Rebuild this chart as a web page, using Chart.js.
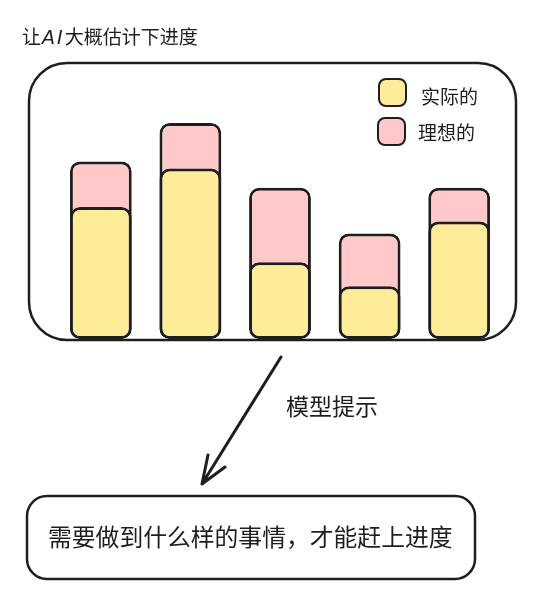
<!DOCTYPE html>
<html><head><meta charset="utf-8">
<script src="https://cdn.jsdelivr.net/npm/chart.js@4/dist/chart.umd.min.js"></script>
<style>
html,body{margin:0;padding:0;background:#fff;}
#wrap{position:relative;width:533px;height:612px;overflow:hidden;font-family:"Noto Sans CJK SC","Noto Sans",sans-serif;color:#1e1e1e;}
#wrap canvas,#wrap svg{position:absolute;left:0;top:0;}
.t{position:absolute;white-space:nowrap;line-height:1;}
.sw{position:absolute;width:25px;height:25px;border:2.5px solid #1e1e1e;border-radius:8px;}
</style></head><body>
<div id="wrap">
<svg width="533" height="612">
  <rect x="29" y="63" width="487" height="277" rx="38" fill="none" stroke="#1e1e1e" stroke-width="2.5"/>
  <path d="M281 357 L202 484 M208 455 L202 484 L225 467" fill="none" stroke="#1e1e1e" stroke-width="3" stroke-linecap="round" stroke-linejoin="round"/>
  <rect x="27" y="496" width="448" height="83" rx="20" fill="none" stroke="#1e1e1e" stroke-width="2.5"/>
</svg>
<canvas id="c" width="533" height="612"></canvas>
<div class="t" style="left:22px;top:26px;font-size:19px;">让<span style="font-family:'DejaVu Sans';font-style:italic;font-size:19px;letter-spacing:2px;padding-left:1px;">AI</span>大概估计下进度</div>
<div id="legend"></div>
<div class="t" style="left:286px;top:394px;font-size:23px;">模型提示</div>
<div class="t" style="left:48px;top:524px;font-size:23.8px;">需要做到什么样的事情，才能赶上进度</div>
</div>
<script>
const categories = ['1', '2', '3', '4', '5'];
const actualValues = [55, 71, 32, 22, 49];
const idealValues = [74, 90, 63, 44, 63];
const seriesNames = ['实际的', '理想的'];
const seriesColors = ['#ffec99', '#ffc9c9'];

const chart = new Chart(document.getElementById('c'), {
  type: 'bar',
  data: {
    labels: categories,
    datasets: [
      { label: seriesNames[0], data: actualValues, backgroundColor: seriesColors[0] },
      { label: seriesNames[1], data: idealValues, backgroundColor: seriesColors[1] }
    ]
  },
  options: {
    responsive: false,
    animation: false,
    layout: { padding: { left: 56, right: 29, top: 99, bottom: 273 } },
    datasets: {
      bar: {
        grouped: false,
        barPercentage: 0.69,
        categoryPercentage: 1,
        borderColor: '#1e1e1e',
        borderWidth: 3,
        borderRadius: 10,
        borderSkipped: false
      }
    },
    scales: {
      x: { display: false },
      y: { display: false, min: 0, max: 100 }
    },
    plugins: { legend: { display: false }, tooltip: { enabled: false } }
  }
});

const lg = document.getElementById('legend');
const legendPos = [[378, 78, 421, 86], [377, 117, 418, 122]];
chart.data.datasets.forEach((ds, i) => {
  const p = legendPos[i];
  const sw = document.createElement('div');
  sw.className = 'sw';
  sw.style.left = p[0] + 'px';
  sw.style.top = p[1] + 'px';
  sw.style.background = ds.backgroundColor;
  lg.appendChild(sw);
  const tx = document.createElement('div');
  tx.className = 't';
  tx.style.left = p[2] + 'px';
  tx.style.top = p[3] + 'px';
  tx.style.fontSize = '19px';
  tx.textContent = ds.label;
  lg.appendChild(tx);
});
</script>
</body></html>
